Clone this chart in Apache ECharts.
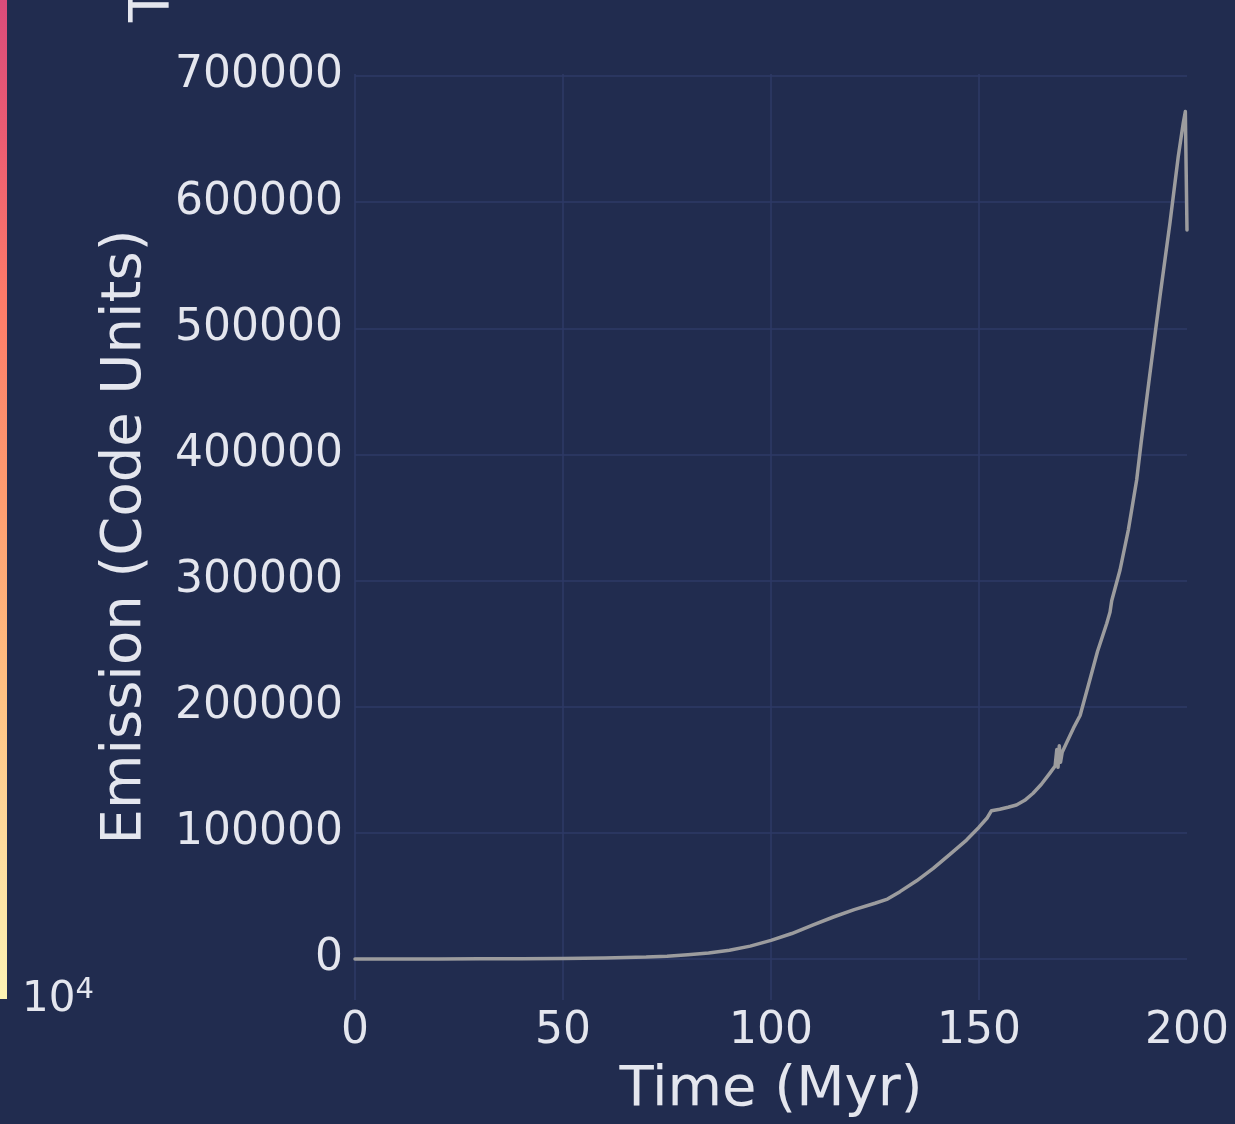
<!DOCTYPE html>
<html>
<head>
<meta charset="utf-8">
<script src="https://cdn.jsdelivr.net/npm/echarts@6/dist/echarts.min.js"></script>
<style>
  html, body { margin: 0; padding: 0; background: #212c4f; }
  #chart { width: 1235px; height: 1124px; }
</style>
</head>
<body>
<div id="chart"></div>
<script>
// Simulation time (Myr) and total emission (code units)
const timeMyr = [
  0, 10, 20, 30, 40, 50, 60, 70, 75, 80, 85, 90, 95, 100, 105, 110, 115, 120,
  125, 128, 131, 135, 139, 143, 147, 150, 152, 153, 155, 157, 159, 161, 163,
  165, 167, 168.3, 168.7, 169, 169.3, 169.6, 170, 171, 172.7, 174.3, 176.7,
  178.5, 180.7, 181.5, 181.9, 182.3, 183.9, 185.9, 187.9, 189, 191.1, 193.5,
  195.9, 197.9, 199.1, 199.6, 200
];
const emission = [
  0, 20, 60, 120, 250, 450, 850, 1500, 2200, 3300, 4700, 7000, 10200, 14800,
  20200, 26800, 33300, 39200, 44200, 47500, 53400, 62000, 71900, 83000, 94300,
  104500, 112000, 117600, 118700, 120300, 122100, 125800, 131400, 138500,
  147200, 153000, 166000, 152000, 169000, 156000, 164000, 171000, 183000,
  193000, 222000, 244000, 266000, 275000, 284000, 283000, 308400, 340200,
  379800, 410000, 464300, 525200, 583400, 636200, 662700, 671900, 578000
];
const xTicks = { min: 0, max: 200, step: 50 };
const yLabels = { min: -32500, max: 701600 };

const FONT = 'DejaVu Sans';
const TEXT = '#e4e6ee';
const GRID = '#2e3a66';

const chart = echarts.init(document.getElementById('chart'), null, { renderer: 'canvas' });

const points = timeMyr.map((t, i) => [t, emission[i]]);

chart.setOption({
  backgroundColor: '#212c4f',
  animation: false,
  grid: { left: 355, right: 48, top: 74, bottom: 124, containLabel: false },
  xAxis: {
    type: 'value',
    min: xTicks.min,
    max: xTicks.max,
    interval: xTicks.step,
    name: 'Time (Myr)',
    nameLocation: 'middle',
    nameGap: 62,
    nameTextStyle: { color: TEXT, fontFamily: FONT, fontSize: 56 },
    axisLine: { show: false },
    axisTick: { show: false },
    axisLabel: { color: TEXT, fontFamily: FONT, fontSize: 44, margin: 10 },
    splitLine: { show: true, showMaxLine: false, lineStyle: { color: GRID, width: 1.5 } }
  },
  yAxis: {
    type: 'value',
    min: yLabels.min,
    max: yLabels.max,
    splitNumber: 7,
    name: 'Emission (Code Units)',
    nameLocation: 'middle',
    nameGap: 202,
    nameTextStyle: { color: TEXT, fontFamily: FONT, fontSize: 56 },
    axisLine: { show: false },
    axisTick: { show: false },
    axisLabel: {
      color: TEXT, fontFamily: FONT, fontSize: 44, margin: 12,
      showMinLabel: false, showMaxLabel: false,
      formatter: v => String(v)
    },
    splitLine: { show: true, showMinLine: false, showMaxLine: false, lineStyle: { color: GRID, width: 1.5 } }
  },
  series: [{
    type: 'line',
    data: points,
    showSymbol: false,
    lineStyle: { color: '#9c9c9e', width: 3.5, join: 'round', cap: 'round' },
    z: 3
  }],
  graphic: [
    {
      // colour bar strip at the left edge
      type: 'rect',
      shape: { x: 0, y: -10, width: 7, height: 1009 },
      style: {
        fill: new echarts.graphic.LinearGradient(0, 0, 0, 1, [
          { offset: 0, color: '#d84a7b' },
          { offset: 0.15, color: '#ec5d72' },
          { offset: 0.3, color: '#fd7a69' },
          { offset: 0.5, color: '#fe9c70' },
          { offset: 0.7, color: '#ffc283' },
          { offset: 0.85, color: '#fedc9e' },
          { offset: 1, color: '#fcf3b4' }
        ])
      }
    },
    {
      type: 'text',
      x: 22, y: 1021,
      style: {
        text: '{b|10}{s|4}',
        verticalAlign: 'bottom',
        rich: {
          b: { fontFamily: FONT, fontSize: 42, fill: TEXT, verticalAlign: 'bottom' },
          s: { fontFamily: FONT, fontSize: 29, fill: TEXT, verticalAlign: 'top', padding: [0, 0, 16, 0] }
        }
      }
    },
    {
      // colour bar title, rotated
      type: 'text',
      x: 153, y: 22,
      rotation: Math.PI / 2,
      style: {
        text: 'Temperature (K)',
        fontFamily: FONT, fontSize: 56, fill: TEXT,
        align: 'left', verticalAlign: 'middle'
      }
    }
  ]
});
</script>
</body>
</html>
